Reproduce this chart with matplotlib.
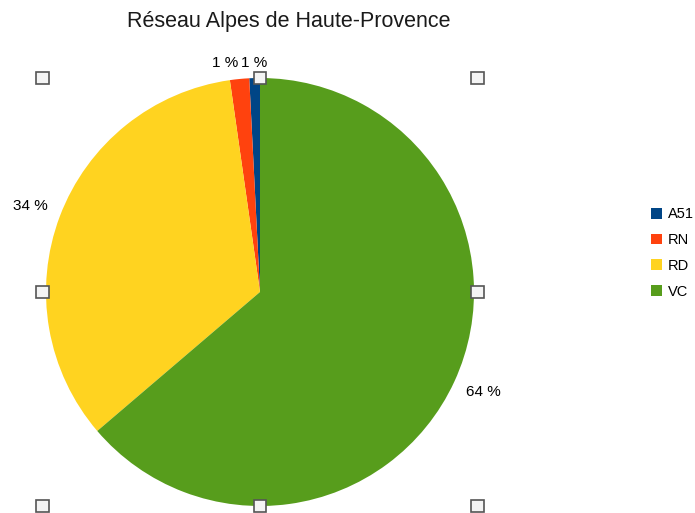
import numpy as np
import matplotlib.pyplot as plt
from matplotlib.patches import Rectangle

categories = ['A51', 'RN', 'RD', 'VC']
values = [0.8, 1.45, 34.0, 63.75]
colors = ['#004586', '#ff420e', '#ffd320', '#579d1c']

W, H = 695, 513
fig = plt.figure(figsize=(W / 100, H / 100), dpi=100)

# pie centre (260, 292) px, radius 214 px
cx, cy, r = 260, 292, 214
ax = fig.add_axes([(cx - r) / W, (H - cy - r) / H, 2 * r / W, 2 * r / H])

wedges, _ = ax.pie(values, colors=colors, startangle=90, counterclock=True,
                   radius=1, wedgeprops=dict(linewidth=0))
# pie() resets the limits, so set them afterwards
ax.set_xlim(-1, 1)
ax.set_ylim(-1, 1)
ax.set_aspect('equal')
ax.axis('off')

# labels sit with their corner on a point just outside the rim
total = sum(values)
for w, v in zip(wedges, values):
    ang = np.deg2rad((w.theta1 + w.theta2) / 2)
    c, s = np.cos(ang), np.sin(ang)
    ha = 'left' if c > 0.05 else ('right' if c < -0.05 else 'center')
    va = 'bottom' if s > 0 else 'top'
    ax.text(1.06 * c, 1.04 * s, f"{round(100 * v / total)} %",
            ha=ha, va=va, fontsize=11, family='Liberation Sans', color='#000000')

# selection handles round the pie
for hx in (-1.015, 0, 1.015):
    for hy in (-1.0, 0, 1.0):
        if hx == 0 and hy == 0:
            continue
        s = 0.03
        ax.add_patch(Rectangle((hx - s, hy - s), 2 * s, 2 * s, facecolor='#f4f4f4',
                               edgecolor='#555555', linewidth=1.2, clip_on=False, zorder=5))

fig.text(289 / W, 1 - 22 / H, 'Réseau Alpes de Haute-Provence', ha='center', va='center',
         fontsize=15.5, family='Liberation Sans', color='#1a1a1a')

leg = fig.legend(wedges, categories, loc='center left', bbox_to_anchor=(651 / W, 1 - 253 / H),
                 frameon=False, prop=dict(family='Liberation Sans', size=10.5),
                 handlelength=0.75, handleheight=0.75, handletextpad=0.4, labelspacing=0.8,
                 borderpad=0, borderaxespad=0)

fig.savefig('out.png', dpi=100)
